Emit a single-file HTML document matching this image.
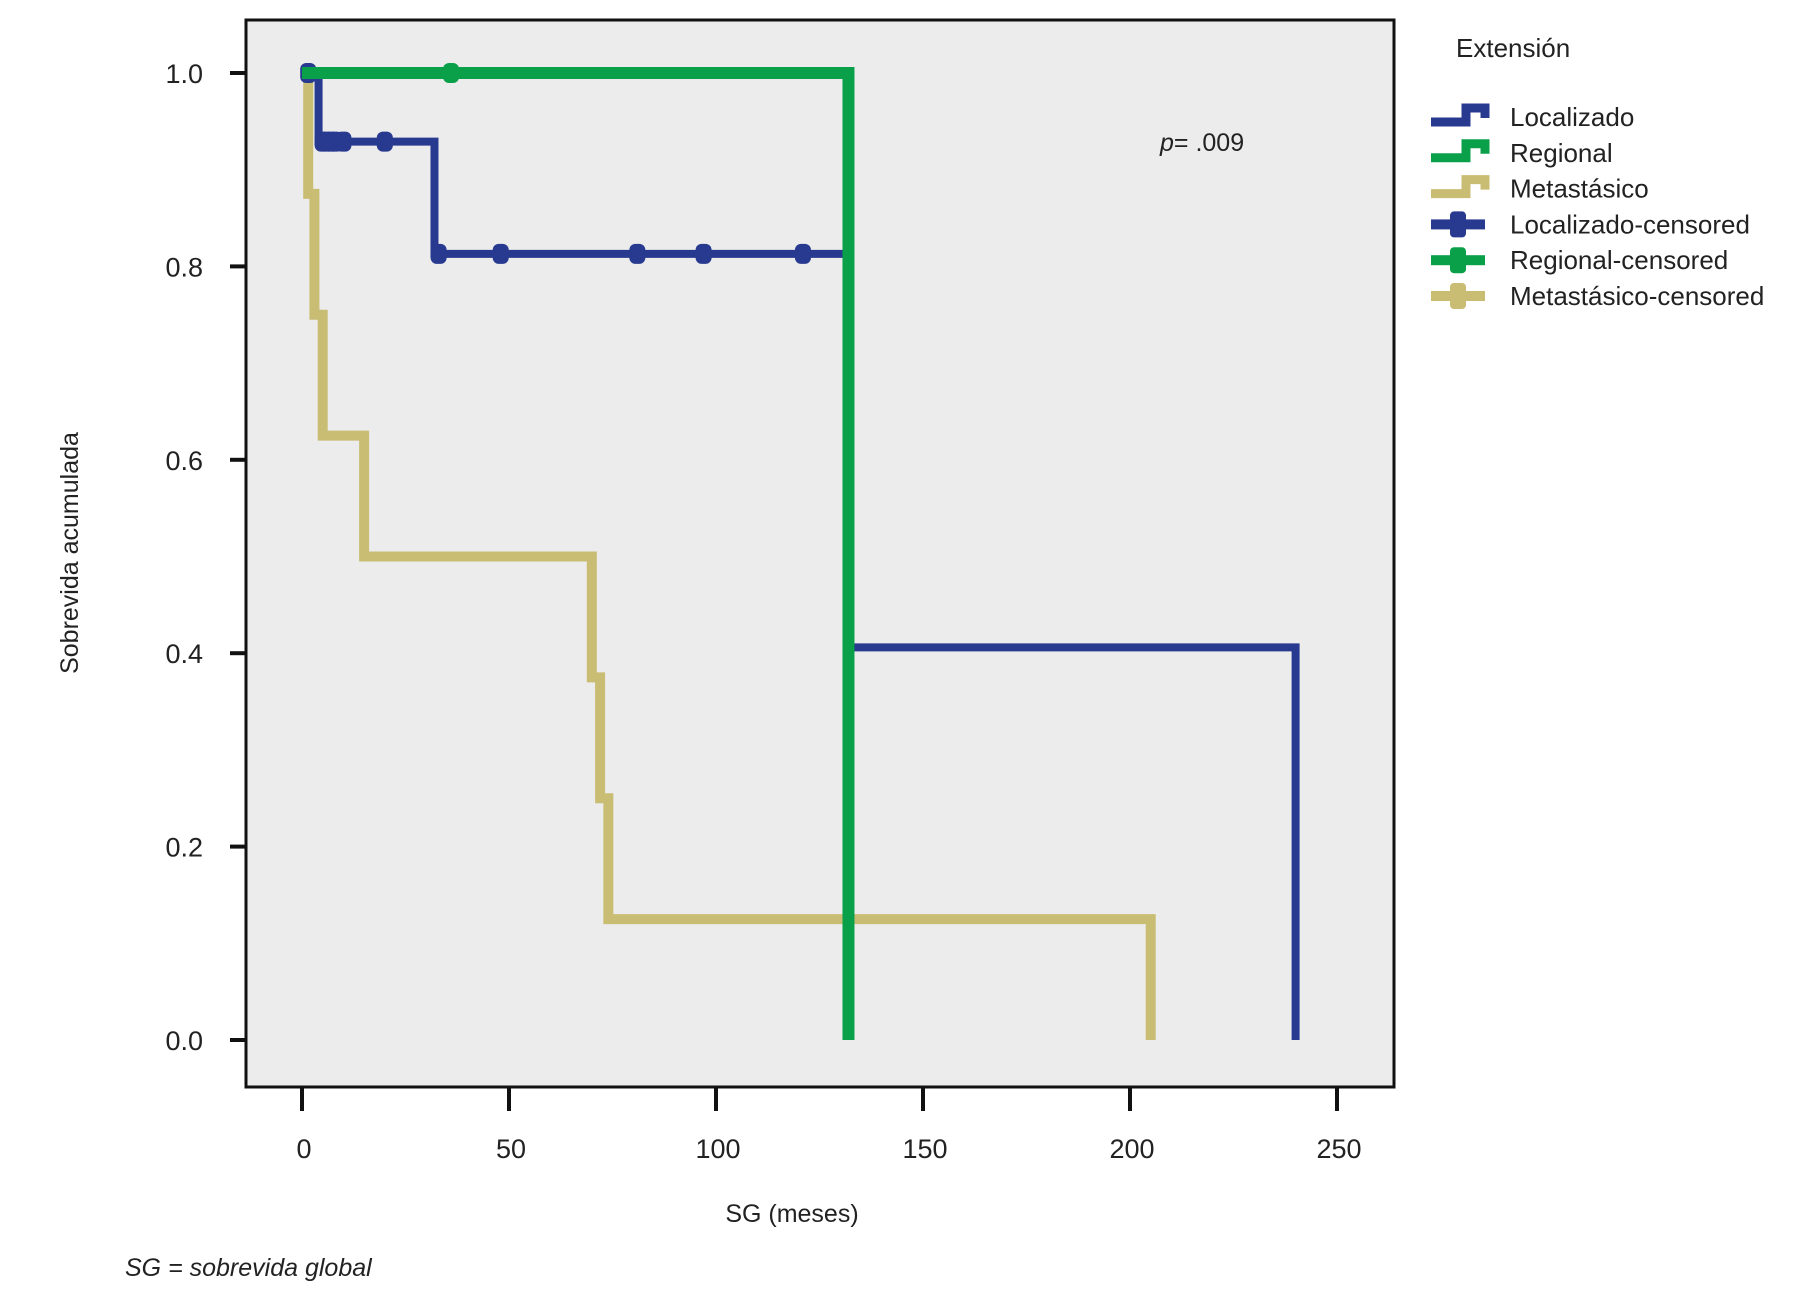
<!DOCTYPE html>
<html><head><meta charset="utf-8">
<style>
html,body{margin:0;padding:0;background:#fff;}
body{width:1800px;height:1308px;overflow:hidden;}
svg text{font-family:"Liberation Sans Narrow","Liberation Sans",sans-serif;fill:#222;}
</style></head>
<body>
<svg id="chart" width="1800" height="1308" viewBox="0 0 1800 1308" xmlns="http://www.w3.org/2000/svg">
<rect x="246" y="20" width="1148" height="1067" fill="#ececec" stroke="#111" stroke-width="3"/>
<g id="axes"></g>
<g id="series"></g>
<text x="1160" y="151" font-size="25"><tspan font-style="italic">p</tspan>= .009</text>
<text x="792" y="1222" font-size="25" text-anchor="middle">SG (meses)</text>
<text transform="translate(78,553) rotate(-90)" font-size="25" text-anchor="middle">Sobrevida acumulada</text>
<text x="125" y="1276" font-size="25" font-style="italic">SG = sobrevida global</text>
<g id="legend"></g>
</svg>
<script>
const xTicks = [0, 50, 100, 150, 200, 250];
const yTicks = [0.0, 0.2, 0.4, 0.6, 0.8, 1.0];
const seriesNames = ["Localizado", "Regional", "Metastásico"];
const locTimes = [0, 4, 32, 132, 240];
const locSurv = [1.0, 0.929, 0.813, 0.406, 0.0];
const locEnd = 240;
const locCensor = [1.5, 5, 6, 7, 8, 10, 20, 33, 48, 81, 97, 121];
const regTimes = [0, 132];
const regSurv = [1.0, 0.0];
const regEnd = 132;
const regCensor = [36];
const metTimes = [0, 1.5, 3, 5, 15, 70, 72, 74, 205];
const metSurv = [1.0, 0.875, 0.75, 0.625, 0.5, 0.375, 0.25, 0.125, 0.0];
const metEnd = 205;
const metCensor = [];

const NS = "http://www.w3.org/2000/svg";
const X = t => 302 + t * 4.14;
const Y = s => 1040 - s * 967;
function mk(tag, attrs, parent){const e=document.createElementNS(NS,tag);for(const k in attrs)e.setAttribute(k,attrs[k]);parent.appendChild(e);return e;}
const axes=document.getElementById('axes');
xTicks.forEach(v=>{
  const l=mk('line',{x1:X(v),x2:X(v),y1:1087,y2:1111,stroke:'#111','stroke-width':4},axes);
  
  
  const t=mk('text',{x:X(v)+2,y:1158,'font-size':27,'text-anchor':'middle'},axes);t.textContent=v;
  
  
});
yTicks.forEach(v=>{
  const l=mk('line',{x1:230,x2:246,y1:Y(v),y2:Y(v),stroke:'#111','stroke-width':4},axes);
  
  
  const t=mk('text',{x:203,y:Y(v)+10,'font-size':27,'text-anchor':'end'},axes);t.textContent=v.toFixed(1);
  
  
});
const colors=['#283a8f','#0aa04a','#c9bd74'];
const widths=[8,12,10];
const data=[[locTimes,locSurv,locEnd,locCensor],[regTimes,regSurv,regEnd,regCensor],[metTimes,metSurv,metEnd,metCensor]];
const sg=document.getElementById('series');
[2,0,1].forEach(i=>{
  const [ts,ss,end,cs]=data[i];
  let d=`M${X(ts[0])},${Y(ss[0])}`;
  for(let k=1;k<ts.length;k++){d+=` H${X(ts[k])} V${Y(ss[k])}`;}
  d+=` H${X(end)}`;
  const p=mk('path',{d:d,fill:'none',stroke:colors[i],'stroke-width':widths[i],'stroke-linejoin':'miter'},sg);
  
  
  cs.forEach(c=>{
    let s=ss[0];for(let k=0;k<ts.length;k++){if(ts[k]<=c)s=ss[k];}
    const m=mk('rect',{x:X(c)-8,y:Y(s)-10,width:16,height:20,rx:6,fill:colors[i]},sg);
    
    
  });
});
const lg=document.getElementById('legend');
const t0=mk('text',{x:1456,y:57,'font-size':26},lg);t0.textContent='Extensión';


const labels=['Localizado','Regional','Metastásico','Localizado-censored','Regional-censored','Metastásico-censored'];
labels.forEach((lab,i)=>{
  const y=117+i*35.8;const c=colors[i%3];
  const g=mk('g',{},lg);
  
  
  if(i<3){
    mk('path',{d:`M1431,${y+5} H1466 V${y-9} H1485 V${y+1}`,fill:'none',stroke:c,'stroke-width':9},g);
  }else{
    mk('rect',{x:1431,y:y-5,width:54,height:10,fill:c},g);
    mk('rect',{x:1450,y:y-13,width:16,height:26,rx:4,fill:c},g);
  }
  const t=mk('text',{x:1510,y:y+9,'font-size':26},g);t.textContent=lab;
});
</script>
</body></html>
